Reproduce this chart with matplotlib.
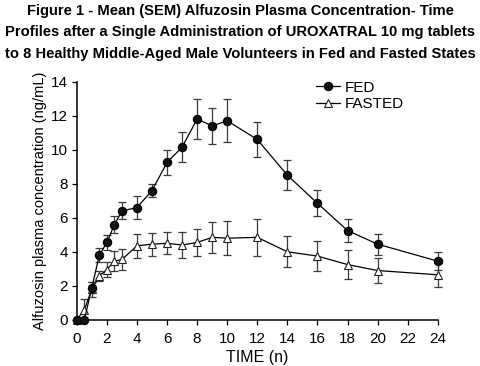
import matplotlib
matplotlib.use("Agg")
import matplotlib.pyplot as plt

plt.rcParams.update({
    "font.family": ["Liberation Sans", "DejaVu Sans"],
    "font.size": 10,
})

# sampling times (h)
time = [0, 0.5, 1, 1.5, 2, 2.5, 3, 4, 5, 6, 7, 8, 9, 10, 12, 14, 16, 18, 20, 24]

# mean (SEM) alfuzosin plasma concentration, ng/mL
fed = [0, 0, 1.9, 3.8, 4.55, 5.6, 6.4, 6.6, 7.6, 9.25, 10.15, 11.8, 11.4, 11.7,
       10.6, 8.5, 6.85, 5.25, 4.45, 3.45]
fed_sem = [0, 0, 0.3, 0.4, 0.45, 0.5, 0.5, 0.7, 0.36, 0.73, 0.9, 1.15, 1.05,
           1.25, 1.03, 0.88, 0.76, 0.67, 0.62, 0.52]
fasted = [0, 0.6, 1.8, 2.6, 2.95, 3.45, 3.55, 4.35, 4.45, 4.5, 4.4, 4.55, 4.85,
          4.8, 4.85, 4.0, 3.75, 3.25, 2.9, 2.65]
fasted_sem = [0, 0.6, 0.45, 0.3, 0.45, 0.6, 0.6, 0.69, 0.67, 0.65, 0.77, 0.8,
              0.91, 1.0, 1.07, 0.9, 0.9, 0.84, 0.73, 0.72]

xticks = list(range(0, 25, 2))
yticks = list(range(0, 15, 2))

fig = plt.figure(figsize=(4.8, 3.66), dpi=100)
ax = fig.add_axes([0.160, 0.126, 0.752, 0.651])

err_kw = dict(fmt="none", ecolor="#3a3a3a", elinewidth=0.9, capsize=2.6,
              capthick=0.9, zorder=2, clip_on=False)
ax.errorbar(time, fed, yerr=fed_sem, **err_kw)
ax.errorbar(time, fasted, yerr=fasted_sem, **err_kw)

ax.plot(time, fed, "-o", color="black", lw=0.9, ms=5.8, mfc="#111111",
        mec="black", label="FED", zorder=4, clip_on=False)
ax.plot(time, fasted, "-^", color="black", lw=0.9, ms=5.8, mfc="white",
        mec="#222222", mew=0.8, label="FASTED", zorder=3, clip_on=False)

ax.set_xlim(0, 24)
ax.set_ylim(0, 14)
ax.set_xticks(xticks)
ax.set_yticks(yticks)
ax.tick_params(direction="out", length=3.5, width=0.9, labelsize=11, pad=3)
ax.tick_params(axis="x", pad=5)
for s in ("top", "right"):
    ax.spines[s].set_visible(False)
for s in ("left", "bottom"):
    ax.spines[s].set_linewidth(1.1)

ax.set_xlabel("TIME (n)", fontsize=11.5, labelpad=3)
ax.set_ylabel("Alfuzosin plasma concentration (ng/mL)", fontsize=10.5, labelpad=3)

ax.legend(loc="upper left", bbox_to_anchor=(0.645, 1.03), frameon=False,
          fontsize=11, handlelength=1.6, handletextpad=0.3, labelspacing=0.15,
          borderaxespad=0)

fig.suptitle("Figure 1 - Mean (SEM) Alfuzosin Plasma Concentration- Time\n"
             "Profiles after a Single Administration of UROXATRAL 10 mg tablets\n"
             "to 8 Healthy Middle-Aged Male Volunteers in Fed and Fasted States",
             x=0.5, y=0.99, fontsize=10.6, fontweight="bold", linespacing=1.7)

fig.savefig("out.png", dpi=100)
